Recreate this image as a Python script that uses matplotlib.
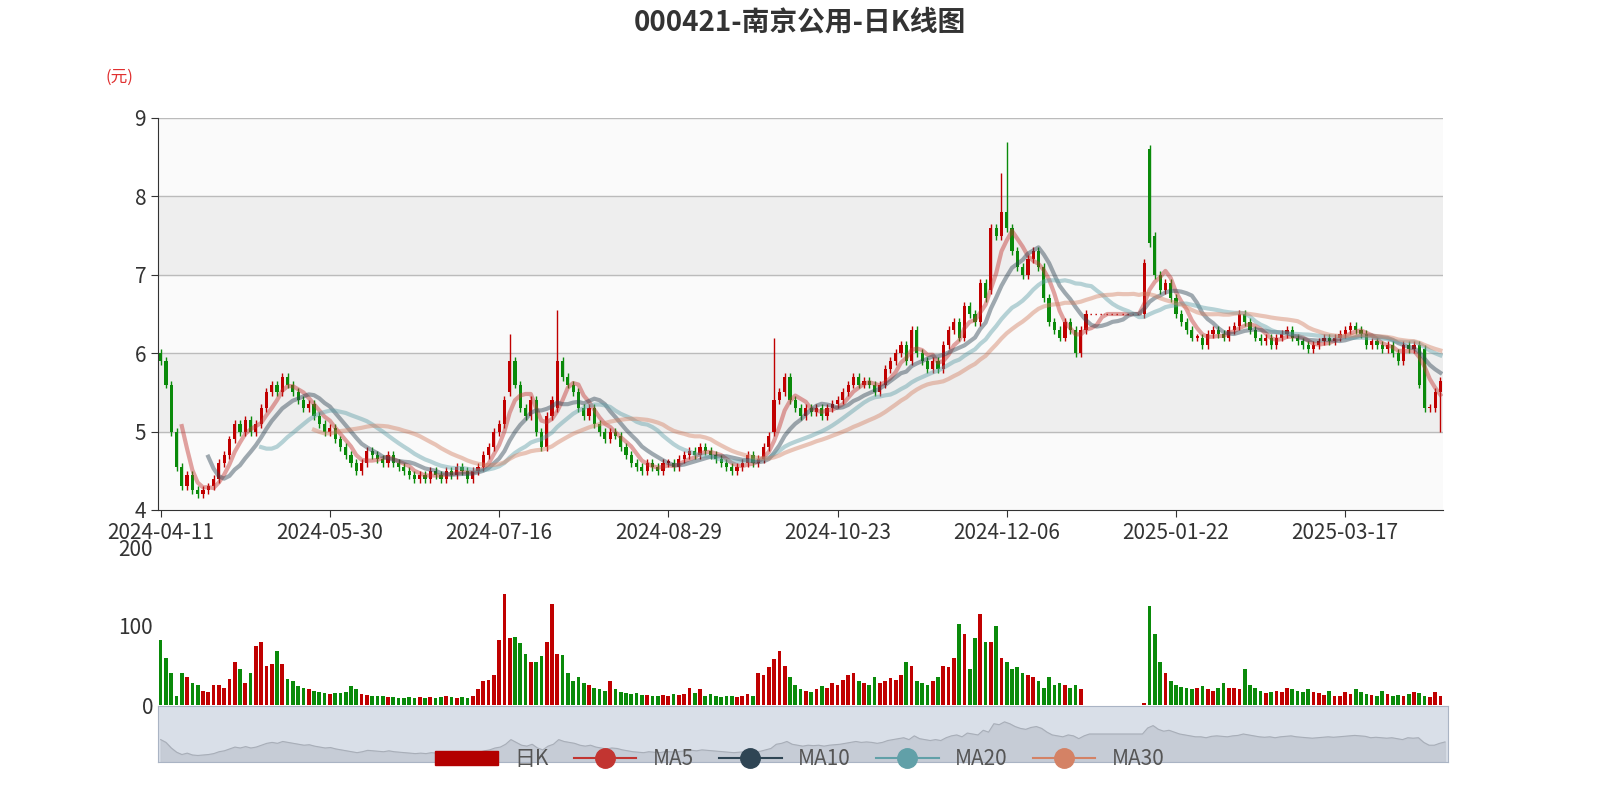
import matplotlib
matplotlib.use("Agg")
import matplotlib.pyplot as plt
import numpy as np
import pandas as pd
from matplotlib.lines import Line2D
from matplotlib.patches import Patch

plt.rcParams['font.family'] = ['Noto Sans CJK SC', 'DejaVu Sans']

closes = [5.9,5.6,5.0,4.55,4.3,4.45,4.25,4.2,4.25,4.3,4.4,4.6,4.7,4.9,5.1,5.0,5.15,5.0,5.1,5.3,
          5.5,5.6,5.5,5.7,5.6,5.5,5.4,5.3,5.35,5.2,5.1,5.0,5.05,4.9,4.8,4.7,4.6,4.5,4.6,4.75,
          4.7,4.65,4.6,4.7,4.6,4.55,4.5,4.45,4.4,4.45,4.4,4.5,4.45,4.4,4.5,4.45,4.55,4.5,4.4,4.5,
          4.55,4.7,4.8,5.0,5.1,5.4,5.9,5.6,5.3,5.2,5.4,5.0,4.8,5.2,5.4,5.9,5.7,5.6,5.5,5.3,
          5.2,5.3,5.1,5.0,4.9,5.0,4.95,4.8,4.7,4.6,4.55,4.5,4.6,4.55,4.5,4.6,4.6,4.55,4.65,4.7,
          4.75,4.7,4.8,4.75,4.7,4.65,4.6,4.55,4.5,4.55,4.6,4.7,4.6,4.65,4.8,4.95,5.4,5.5,5.7,5.4,
          5.3,5.2,5.3,5.25,5.3,5.2,5.3,5.35,5.4,5.5,5.6,5.7,5.6,5.65,5.6,5.5,5.6,5.8,5.9,6.0,
          6.1,5.9,6.3,6.0,5.9,5.8,5.9,5.8,6.1,6.3,6.4,6.2,6.6,6.5,6.4,6.9,6.7,7.6,7.5,7.8,
          7.6,7.3,7.1,7.0,7.2,7.3,7.1,6.7,6.4,6.3,6.2,6.4,6.3,6.0,6.3,6.5,6.5,6.5,6.5,6.5,
          6.5,6.5,6.5,6.5,6.5,6.5,7.15,7.4,7.0,6.8,6.9,6.7,6.5,6.4,6.3,6.2,6.2,6.1,6.25,6.3,
          6.25,6.2,6.3,6.35,6.5,6.4,6.3,6.2,6.15,6.2,6.1,6.2,6.25,6.3,6.2,6.15,6.1,6.05,6.1,6.15,
          6.2,6.15,6.2,6.25,6.3,6.35,6.3,6.25,6.1,6.15,6.1,6.05,6.1,6.0,5.9,6.1,6.05,6.1,5.6,5.3,
          5.3,5.5,5.65]
volumes = [82,60,40,12,40,35,28,25,18,17,25,25,22,33,55,45,28,40,75,80,
           50,52,68,52,33,30,24,22,20,18,17,15,14,15,15,17,24,20,14,13,
           12,12,11,10,10,9,9,10,9,10,9,10,9,10,11,10,9,10,9,12,
           20,30,32,38,82,140,85,86,78,65,55,55,62,80,128,65,63,40,30,35,
           28,25,22,20,18,30,20,16,15,14,15,13,13,12,12,13,12,14,13,14,
           22,15,20,12,14,12,10,12,11,10,11,14,12,40,38,48,58,68,50,35,
           25,20,18,17,20,24,22,28,25,32,38,40,30,28,25,35,28,30,34,32,
           38,55,50,30,28,25,30,35,50,48,60,103,90,45,85,115,80,80,100,60,
           55,45,48,40,38,35,30,22,35,25,28,25,22,25,20,0,0,0,0,0,
           0,0,0,0,0,0,3,125,90,55,40,30,25,23,22,20,22,24,20,18,
           22,28,22,22,20,45,25,22,18,15,16,18,16,22,20,18,16,20,16,15,
           13,18,12,12,16,14,20,16,14,13,12,18,14,12,13,11,14,16,15,12,
           10,16,12,16]
n = len(closes)
volumes = volumes[:n]
tick_idx = [0, 32, 64, 96, 128, 160, 192, 224]
tick_labels = ["2024-04-11","2024-05-30","2024-07-16","2024-08-29","2024-10-23","2024-12-06","2025-01-22","2025-03-17"]

opens = [6.0] + closes[:-1]
opens[66] = 5.5; opens[75] = 5.3; opens[116] = 5.0; opens[157] = 6.8
opens[187] = 8.6; opens[188] = 7.5; opens[239] = 6.05
highs = [max(o, c) + 0.05 for o, c in zip(opens, closes)]
lows = [min(o, c) - 0.05 for o, c in zip(opens, closes)]
highs[66] = 6.25; highs[75] = 6.55; highs[116] = 6.2; highs[159] = 8.3; highs[160] = 8.7
highs[187] = 8.65; lows[242] = 5.0
susp = set(range(176, 186))

UP, DN = '#c00000', '#0a8a0a'
fig = plt.figure(figsize=(16, 8), dpi=100)
fig.text(0.5, 0.972, "000421-南京公用-日K线图", ha='center', va='center', fontsize=20, fontweight='bold', color='#333333')
fig.text(0.066, 0.903, "(元)", color='#e03030', fontsize=12, ha='left', va='center')

ax = fig.add_axes([0.09875, 0.3625, 0.80315, 0.49])
x = np.arange(n)
for lo, hi, col in [(4,5,'#fafafa'),(5,6,'#eeeeee'),(6,7,'#fafafa'),(7,8,'#eeeeee'),(8,9,'#fafafa')]:
    ax.axhspan(lo, hi, color=col, zorder=0)
for y in range(5, 10):
    ax.axhline(y, color='#bbbbbb', lw=1, zorder=1)
for i in range(n):
    o, c = opens[i], closes[i]
    if i in susp:
        ax.plot([i-0.3, i+0.3], [c, c], color=UP, lw=1, ls=':', zorder=3)
        continue
    col = UP if c >= o else DN
    ax.vlines(i, lows[i], highs[i], color=col, lw=1, zorder=3)
    ax.bar(i, max(abs(c-o), 0.02), bottom=min(o, c), width=0.6, color=col, zorder=3)
s = pd.Series(closes)
ma_cols = {5:'#c23531', 10:'#2f4554', 20:'#61a0a8', 30:'#d48265'}
for k, col in ma_cols.items():
    ax.plot(x, s.rolling(k).mean(), color=col, lw=3, alpha=0.45, zorder=4)
ax.set_xlim(-0.5, n-0.5)
ax.set_ylim(4, 9)
ax.set_yticks(range(4, 10))
ax.set_xticks(tick_idx)
ax.set_xticklabels(tick_labels)
ax.tick_params(labelsize=15, colors='#333333', length=5)
for sp in ['top', 'right']:
    ax.spines[sp].set_visible(False)
ax.spines['left'].set_color('#333333'); ax.spines['bottom'].set_color('#333333')

axv = fig.add_axes([0.09875, 0.11875, 0.80315, 0.1975])
vcol = [UP if closes[i] >= opens[i] else DN for i in range(n)]
axv.bar(x, volumes, width=0.7, color=vcol)
axv.set_xlim(-0.5, n-0.5)
axv.set_ylim(0, 200)
axv.set_yticks([0, 100, 200])
axv.set_xticks([])
axv.tick_params(labelsize=15, colors='#333333', length=0)
for sp in ['top', 'right', 'bottom', 'left']:
    axv.spines[sp].set_visible(False)

axs = fig.add_axes([0.09875, 0.0475, 0.806, 0.07])
axs.set_facecolor('#d9dfe8')
axs.fill_between(x, closes, 3.5, color='#c4cad4', alpha=0.9)
axs.plot(x, closes, color='#a8aeb8', lw=0.8)
axs.set_xlim(-0.5, n-0.5); axs.set_ylim(3.5, 9.5)
axs.set_xticks([]); axs.set_yticks([])
for sp in axs.spines.values():
    sp.set_color('#aab4c4')

handles = [Patch(color='#b30000', label='日K')] + [Line2D([], [], color=c, marker='o', ms=14, lw=1.5, label=f'MA{k}') for k, c in ma_cols.items()]
fig.legend(handles=handles, loc='center', bbox_to_anchor=(0.5, 0.051), ncol=5, frameon=False,
           fontsize=15, labelcolor='#555555', handlelength=3, columnspacing=1.2)
fig.savefig("out.png")
